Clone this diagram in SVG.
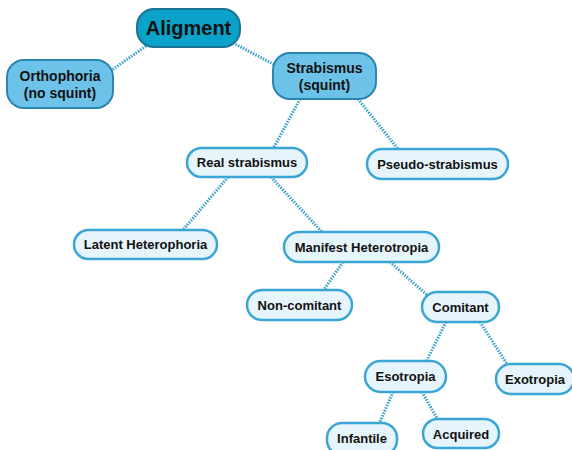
<svg xmlns="http://www.w3.org/2000/svg" width="572" height="450" viewBox="0 0 572 450">
<style>
.c{stroke:#3b9fcc;stroke-width:3;stroke-dasharray:1.5 1.3;fill:none}
.l{fill:#e6f4fb;stroke:#3ba5d6;stroke-width:2.5}
.m{fill:#6cc2e8;stroke:#2a86b0;stroke-width:2}
.d{fill:#0aa2c9;stroke:#1a7395;stroke-width:2}
text{font-family:"Liberation Sans",Arial,sans-serif;font-weight:bold;fill:#111;text-anchor:middle}
.t{font-size:13px}
.tm{font-size:14px}
.tb{font-size:20px}
</style>
<rect width="572" height="450" fill="#fff"/>
<g id="connectors">
<line class="c" x1="146" y1="46" x2="112" y2="70"/>
<line class="c" x1="233" y1="43" x2="275" y2="65"/>
<line class="c" x1="300" y1="99" x2="273" y2="149"/>
<line class="c" x1="358" y1="99" x2="398" y2="149"/>
<line class="c" x1="228" y1="177" x2="183" y2="230"/>
<line class="c" x1="271" y1="177" x2="323" y2="233"/>
<line class="c" x1="343" y1="262" x2="323" y2="291"/>
<line class="c" x1="390" y1="262" x2="427" y2="295"/>
<line class="c" x1="446" y1="322" x2="426" y2="362"/>
<line class="c" x1="480" y1="322" x2="507" y2="364"/>
<line class="c" x1="393" y1="392" x2="379" y2="424"/>
<line class="c" x1="422" y1="392" x2="438" y2="420"/>
</g>
<g id="aligment"><rect class="d" x="137" y="9" width="103" height="38" rx="17"/><text class="tb" x="188.5" y="35">Aligment</text></g>
<g id="orthophoria"><rect class="m" x="7" y="60" width="106" height="48" rx="17"/><text class="tm" x="60" y="81">Orthophoria</text><text class="tm" x="60" y="98">(no squint)</text></g>
<g id="strabismus"><rect class="m" x="273" y="53" width="103" height="46" rx="17"/><text class="tm" x="324.5" y="73">Strabismus</text><text class="tm" x="324.5" y="90">(squint)</text></g>
<g id="real"><rect class="l" x="187" y="148" width="120" height="29" rx="14.5"/><text class="t" x="247" y="167">Real strabismus</text></g>
<g id="pseudo"><rect class="l" x="367" y="149" width="141" height="30" rx="15"/><text class="t" x="437.5" y="169">Pseudo-strabismus</text></g>
<g id="latent"><rect class="l" x="74" y="230" width="143" height="29" rx="14.5"/><text class="t" x="145.5" y="249">Latent Heterophoria</text></g>
<g id="manifest"><rect class="l" x="284" y="232" width="155" height="30" rx="15"/><text class="t" x="361.5" y="252">Manifest Heterotropia</text></g>
<g id="noncomitant"><rect class="l" x="247" y="290" width="105" height="30" rx="15"/><text class="t" x="299.5" y="310">Non-comitant</text></g>
<g id="comitant"><rect class="l" x="422" y="292" width="77" height="30" rx="15"/><text class="t" x="460.5" y="312">Comitant</text></g>
<g id="esotropia"><rect class="l" x="365" y="361" width="81" height="31" rx="15.5"/><text class="t" x="405.5" y="381">Esotropia</text></g>
<g id="exotropia"><rect class="l" x="496" y="364" width="78" height="30" rx="15"/><text class="t" x="535" y="384">Exotropia</text></g>
<g id="infantile"><rect class="l" x="327" y="423" width="70" height="32" rx="15"/><text class="t" x="362" y="443">Infantile</text></g>
<g id="acquired"><rect class="l" x="423" y="419" width="76" height="29" rx="14.5"/><text class="t" x="461" y="439">Acquired</text></g>
</svg>
